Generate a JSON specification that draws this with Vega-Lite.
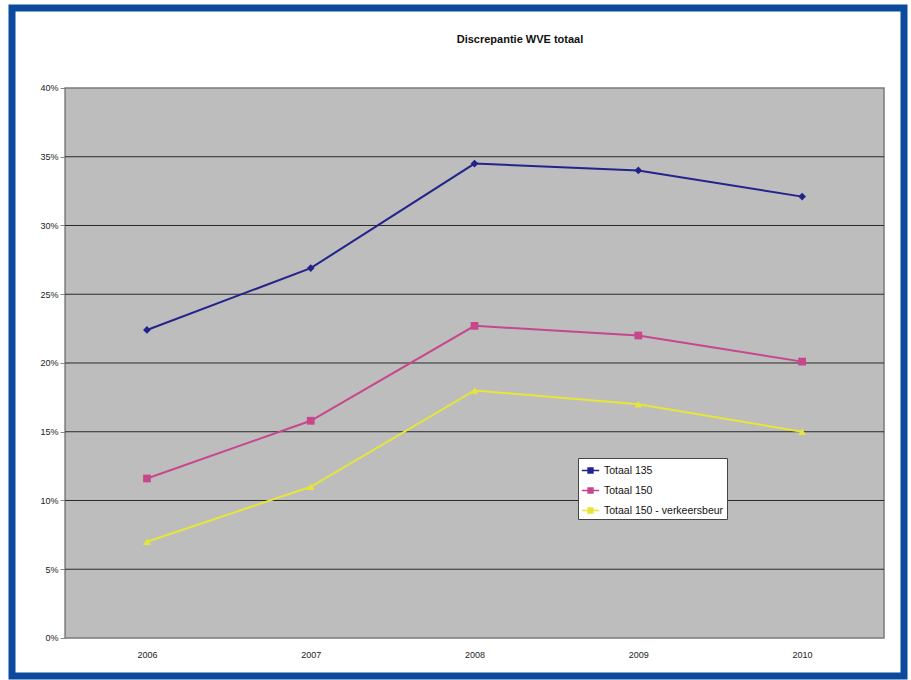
{
  "$schema": "https://vega.github.io/schema/vega-lite/v6.json",
  "autosize": {"type": "none"},
  "width": 892,
  "height": 668,
  "padding": {"left": 12, "top": 8, "right": 7, "bottom": 4},
  "background": "white",
  "title": {
    "text": "Discrepantie WVE totaal",
    "anchor": "middle",
    "dx": 62,
    "offset": -37,
    "fontSize": 11,
    "font": "Liberation Sans",
    "fontWeight": "bold",
    "color": "#111"
  },
  "config": {
    "view": {"stroke": "#0b4a9c", "strokeWidth": 7, "fill": "white"},
    "legend": {
      "orient": "none", "legendX": 566, "legendY": 450,
      "fillColor": "white", "strokeColor": "#444", "padding": 3,
      "labelFontSize": 10.5, "labelFont": "Liberation Sans", "labelColor": "#111",
      "labelLimit": 300, "rowPadding": 5, "symbolSize": 300, "labelOffset": 4,
      "symbolType": "M-1,0H1M-0.28,-0.28H0.28V0.28H-0.28Z", "symbolStrokeWidth": 1.5
    }
  },
  "datasets": {
    "series": [
      {"year": 2006, "serie": "Totaal 135", "waarde": 0.224},
      {"year": 2007, "serie": "Totaal 135", "waarde": 0.269},
      {"year": 2008, "serie": "Totaal 135", "waarde": 0.345},
      {"year": 2009, "serie": "Totaal 135", "waarde": 0.340},
      {"year": 2010, "serie": "Totaal 135", "waarde": 0.321},
      {"year": 2006, "serie": "Totaal 150", "waarde": 0.116},
      {"year": 2007, "serie": "Totaal 150", "waarde": 0.158},
      {"year": 2008, "serie": "Totaal 150", "waarde": 0.227},
      {"year": 2009, "serie": "Totaal 150", "waarde": 0.220},
      {"year": 2010, "serie": "Totaal 150", "waarde": 0.201},
      {"year": 2006, "serie": "Totaal 150 - verkeersbeur", "waarde": 0.070},
      {"year": 2007, "serie": "Totaal 150 - verkeersbeur", "waarde": 0.110},
      {"year": 2008, "serie": "Totaal 150 - verkeersbeur", "waarde": 0.180},
      {"year": 2009, "serie": "Totaal 150 - verkeersbeur", "waarde": 0.170},
      {"year": 2010, "serie": "Totaal 150 - verkeersbeur", "waarde": 0.150}
    ],
    "grid": [
      {"niveau": 0.05}, {"niveau": 0.10}, {"niveau": 0.15}, {"niveau": 0.20},
      {"niveau": 0.25}, {"niveau": 0.30}, {"niveau": 0.35}
    ]
  },
  "layer": [
    {
      "data": {"values": [{}]},
      "mark": {"type": "rect", "fill": "#bcbdbc", "stroke": "#7a7a7a", "strokeWidth": 1.5},
      "encoding": {
        "x": {
          "datum": 2005.5, "type": "quantitative",
          "scale": {"domain": [2005.176, 2010.622], "nice": false, "zero": false},
          "axis": {
            "orient": "bottom", "offset": -38, "values": [2006, 2007, 2008, 2009, 2010],
            "format": "d", "domain": false, "ticks": false, "grid": false, "labelPadding": 12,
            "labelFontSize": 9, "labelFont": "Liberation Sans", "labelColor": "#222", "title": null
          }
        },
        "x2": {"datum": 2010.5},
        "y": {
          "datum": 0, "type": "quantitative",
          "scale": {"domain": [-0.02764, 0.45818], "nice": false, "zero": false},
          "axis": {
            "orient": "left", "offset": -53, "values": [0, 0.05, 0.1, 0.15, 0.2, 0.25, 0.3, 0.35, 0.4],
            "format": ".0%", "domain": false, "grid": false, "tickSize": 5, "tickColor": "#888",
            "labelPadding": 2, "labelFontSize": 9, "labelFont": "Liberation Sans", "labelColor": "#222", "title": null
          }
        },
        "y2": {"datum": 0.4}
      }
    },
    {
      "data": {"name": "grid"},
      "mark": {"type": "rule", "color": "#2a2a2a", "strokeWidth": 1},
      "encoding": {
        "x": {"datum": 2005.5, "type": "quantitative"},
        "x2": {"datum": 2010.5},
        "y": {"field": "niveau", "type": "quantitative"}
      }
    },
    {
      "data": {"name": "series"},
      "mark": {"type": "line", "strokeWidth": 2, "point": {"filled": true, "size": 60}},
      "encoding": {
        "x": {"field": "year", "type": "quantitative"},
        "y": {"field": "waarde", "type": "quantitative"},
        "color": {
          "field": "serie", "type": "nominal", "title": null,
          "scale": {"range": ["#23238c", "#c8468c", "#e6e63a"]}
        },
        "shape": {
          "field": "serie", "type": "nominal", "legend": null,
          "scale": {"range": ["diamond", "square", "triangle-up"]}
        }
      }
    }
  ]
}
